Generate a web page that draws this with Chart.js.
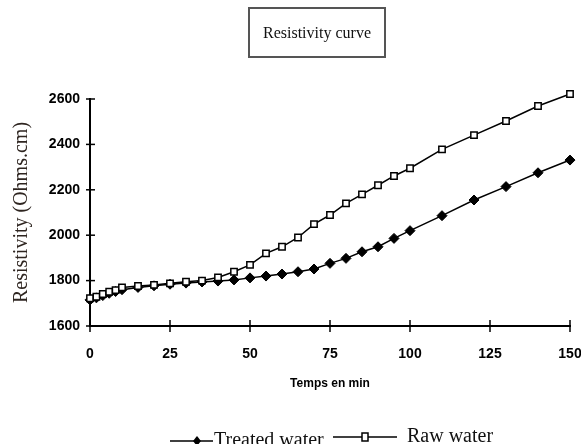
<!DOCTYPE html>
<html>
<head>
<meta charset="utf-8">
<script src="https://cdn.jsdelivr.net/npm/chart.js@4.4.1/dist/chart.umd.min.js"></script>
<style>
  body { margin: 0; background: #fff; }
  #wrap { position: relative; width: 581px; height: 444px; }
  #titleBox {
    position: absolute; left: 248px; top: 7px; width: 134px; height: 47px;
    border: 2px solid #555; box-sizing: content-box;
    font: 16px "Liberation Serif", "Times New Roman", serif; color: #111;
    display: flex; align-items: center; justify-content: center;
  }
  canvas { position: absolute; left: 0; top: 0; }
</style>
</head>
<body>
<div id="wrap">
  <canvas id="myChart" width="581" height="444"></canvas>
  <div id="titleBox">Resistivity curve</div>
</div>
<script>
// valeurs
const times = [0, 2, 4, 6, 8, 10, 15, 20, 25, 30, 35, 40, 45, 50, 55, 60, 65, 70, 75, 80, 85, 90, 95, 100, 110, 120, 130, 140, 150];
const treatedWater = [1715, 1724, 1734, 1744, 1752, 1760, 1770, 1777, 1784, 1789, 1794, 1798, 1803, 1812, 1820, 1829, 1839, 1851, 1876, 1898, 1927, 1949, 1986, 2020, 2086, 2155, 2214, 2275, 2331];
const rawWater = [1722, 1729, 1741, 1751, 1758, 1770, 1776, 1781, 1788, 1795, 1800, 1814, 1839, 1869, 1920, 1949, 1990, 2049, 2089, 2140, 2180, 2220, 2261, 2295, 2378, 2441, 2503, 2569, 2622];
const xTicks = [0, 25, 50, 75, 100, 125, 150];
const yTicks = [1600, 1800, 2000, 2200, 2400, 2600];
const seriesNames = ["Treated water", "Raw water"];

const tickFont = { family: "'Liberation Sans Narrow', 'Liberation Sans', Arial, sans-serif", size: 14, weight: "bold" };

function toPoints(ys) {
    return times.map((t, i) => ({ x: t, y: ys[i] }));
}

// petites marques croisées sur les axes + légende du bas
const axisMarks = {
    id: "axisMarks",
    afterDraw(chart) {
        const c = chart.ctx;
        const xs = chart.scales.x;
        const ys = chart.scales.y;
        const area = chart.chartArea;
        c.save();
        c.strokeStyle = "#000";
        c.lineWidth = 1.5;
        xTicks.forEach(v => {
            const px = xs.getPixelForValue(v);
            c.beginPath();
            c.moveTo(px, area.bottom - 6);
            c.lineTo(px, area.bottom + 6);
            c.stroke();
        });
        yTicks.forEach(v => {
            const py = ys.getPixelForValue(v);
            c.beginPath();
            c.moveTo(area.left - 4, py);
            c.lineTo(area.left + 5, py);
            c.stroke();
        });

        // légende
        c.lineWidth = 1.5;
        c.beginPath();
        c.moveTo(170, 441);
        c.lineTo(213, 441);
        c.stroke();
        c.fillStyle = "#000";
        c.beginPath();
        c.moveTo(197, 436);
        c.lineTo(201, 441);
        c.lineTo(197, 446);
        c.lineTo(193, 441);
        c.closePath();
        c.fill();

        c.beginPath();
        c.moveTo(333, 437);
        c.lineTo(397, 437);
        c.stroke();
        c.fillStyle = "#fff";
        c.fillRect(362, 433, 6, 8);
        c.strokeRect(362, 433, 6, 8);

        c.fillStyle = "#111";
        c.font = "20px 'Liberation Serif', 'Times New Roman', serif";
        c.textBaseline = "alphabetic";
        c.fillText(seriesNames[0], 214, 446);
        c.fillText(seriesNames[1], 407, 442);
        c.restore();
    }
};

new Chart(document.getElementById("myChart"), {
    type: "line",
    data: {
        datasets: [
            {
                label: seriesNames[1],
                data: toPoints(rawWater),
                borderColor: "#000",
                borderWidth: 1.5,
                pointStyle: "rect",
                pointRadius: 4.5,
                pointBackgroundColor: "#fff",
                pointBorderColor: "#000",
                pointBorderWidth: 1.5,
                clip: false,
                order: 0
            },
            {
                label: seriesNames[0],
                data: toPoints(treatedWater),
                borderColor: "#000",
                borderWidth: 1.5,
                pointStyle: "rectRot",
                pointRadius: 5,
                pointBackgroundColor: "#000",
                pointBorderColor: "#000",
                pointBorderWidth: 1,
                clip: false,
                order: 1
            }
        ]
    },
    options: {
        responsive: false,
        animation: false,
        layout: { padding: { left: 0, top: 99, right: 11, bottom: 48 } },
        plugins: {
            legend: { display: false },
            tooltip: { enabled: false }
        },
        scales: {
            x: {
                type: "linear",
                min: 0,
                max: 150,
                afterBuildTicks: (scale) => { scale.ticks = xTicks.map(v => ({ value: v })); },
                afterFit: (scale) => {
                    scale.height = 70;
                    scale.paddingLeft = 0;
                    scale.paddingRight = 0;
                },
                grid: { display: false },
                border: { display: true, color: "#000", width: 2 },
                ticks: { color: "#000", font: tickFont, padding: 12, maxRotation: 0, callback: (v) => String(v) },
                title: {
                    display: true,
                    text: "Temps en min",
                    color: "#000",
                    font: { family: "'Liberation Sans', Arial, sans-serif", size: 12, weight: "bold" },
                    padding: 5
                }
            },
            y: {
                type: "linear",
                min: 1600,
                max: 2600,
                afterBuildTicks: (scale) => { scale.ticks = yTicks.map(v => ({ value: v })); },
                afterFit: (scale) => { scale.width = 90; },
                grid: { display: false },
                border: { display: true, color: "#000", width: 2 },
                ticks: { color: "#000", font: tickFont, padding: 2, callback: (v) => String(v) },
                title: {
                    display: true,
                    text: "Resistivity (Ohms.cm)",
                    color: "#2e2520",
                    font: { family: "'Liberation Serif', 'Times New Roman', serif", size: 20 },
                    padding: 10
                }
            }
        }
    },
    plugins: [axisMarks]
});
</script>
</body>
</html>
